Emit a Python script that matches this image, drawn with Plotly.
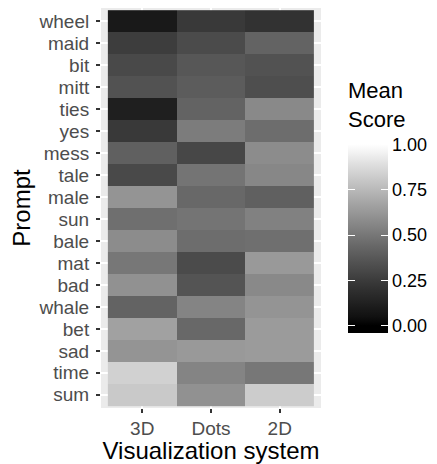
import plotly.graph_objects as go

prompts = ["wheel", "maid", "bit", "mitt", "ties", "yes", "mess", "tale", "male",
           "sun", "bale", "mat", "bad", "whale", "bet", "sad", "time", "sum"]
systems = ["3D", "Dots", "2D"]

score_3d = [0.09, 0.26, 0.31, 0.35, 0.12, 0.24, 0.41, 0.31, 0.61,
            0.47, 0.58, 0.50, 0.60, 0.42, 0.66, 0.61, 0.84, 0.81]
score_dots = [0.24, 0.32, 0.37, 0.39, 0.42, 0.52, 0.30, 0.49, 0.44,
              0.49, 0.46, 0.32, 0.36, 0.55, 0.44, 0.63, 0.55, 0.60]
score_2d = [0.21, 0.42, 0.35, 0.33, 0.57, 0.46, 0.58, 0.56, 0.41,
            0.54, 0.47, 0.63, 0.57, 0.61, 0.64, 0.64, 0.50, 0.82]
legend_ticks = [0, 0.25, 0.5, 0.75, 1.0]
legend_labels = ["0.00", "0.25", "0.50", "0.75", "1.00"]

z = [[a, b, c] for a, b, c in zip(score_3d, score_dots, score_2d)]


def lab_gray(v):
    L = 100 * v
    if L > 8:
        Y = ((L + 16) / 116) ** 3
    else:
        Y = L / 903.3
    if Y <= 0.0031308:
        c = 12.92 * Y
    else:
        c = 1.055 * Y ** (1 / 2.4) - 0.055
    g = max(0, min(255, round(c * 255)))
    return f"rgb({g},{g},{g})"


pad = 0.04
lo, hi = -pad, 1 + pad
scale = [[0.0, "rgb(0,0,0)"]]
for i in range(21):
    v = i / 20
    scale.append([(v - lo) / (hi - lo), lab_gray(v)])
scale.append([1.0, "rgb(255,255,255)"])

font_family = "Liberation Sans, Arial, sans-serif"

# figure is offset by the page's 8px body margin
W, H = 429, 456
ml, mr, mt, mb = 93, 116, 0, 56
pw, ph = W - ml - mr, H - mt - mb
bar_x = (340 - ml) / pw
bar_top_y = 1 - (129 - mt) / ph
bar_len = 196

common_cb = dict(
    tickvals=legend_ticks, ticktext=legend_labels,
    lenmode="pixels", len=bar_len, thicknessmode="pixels",
    x=bar_x, xanchor="left", xpad=0,
    y=bar_top_y, yanchor="top", ypad=0, outlinewidth=0,
)

fig = go.Figure()
fig.add_trace(go.Heatmap(
    x=systems, y=prompts, z=z,
    colorscale=scale, zmin=lo, zmax=hi,
    colorbar=dict(
        ticks="inside", tickcolor="white", ticklen=7, tickwidth=1,
        tickfont=dict(size=18, color="black", family=font_family),
        thickness=40, **common_cb,
    ),
))
# second (transparent) scale only to draw the left-hand white tick marks
fig.add_trace(go.Heatmap(
    x=systems, y=prompts, z=z, hoverinfo="skip",
    colorscale=[[0, "rgba(0,0,0,0)"], [1, "rgba(0,0,0,0)"]], zmin=lo, zmax=hi,
    colorbar=dict(
        ticks="inside", tickcolor="white", ticklen=7, tickwidth=1,
        showticklabels=False, thickness=7, **common_cb,
    ),
))

fig.add_annotation(
    text="Mean<br>Score", xref="paper", yref="paper",
    x=bar_x - 2 / pw, y=1 - (68 - mt) / ph, xanchor="left", yanchor="top",
    align="left", showarrow=False,
    font=dict(size=22, color="black", family=font_family),
)

fig.update_layout(
    width=W, height=H,
    margin=dict(l=ml, r=mr, t=mt, b=mb, autoexpand=False),
    paper_bgcolor="white", plot_bgcolor="#EBEBEB",
    font=dict(family=font_family),
)
fig.update_xaxes(
    range=[-0.6, 2.6], showgrid=True, gridcolor="white", gridwidth=1.5,
    zeroline=False, ticks="outside", ticklen=4, tickwidth=1.5, tickcolor="#333333",
    tickfont=dict(size=19, color="#4D4D4D"), automargin=False, ticklabelstandoff=-1,
    title=dict(text="Visualization system", font=dict(size=24, color="black"), standoff=0),
)
fig.update_yaxes(
    range=[17.6, -0.6], showgrid=True, gridcolor="white", gridwidth=1.5,
    tickmode="array", tickvals=prompts, ticktext=prompts, automargin=False,
    zeroline=False, ticks="outside", ticklen=4, tickwidth=1.5, tickcolor="#333333",
    tickfont=dict(size=19, color="#4D4D4D"), ticklabelstandoff=3,
    title=dict(text="Prompt", font=dict(size=24, color="black"), standoff=9),
)

fig.write_html("out.html")
